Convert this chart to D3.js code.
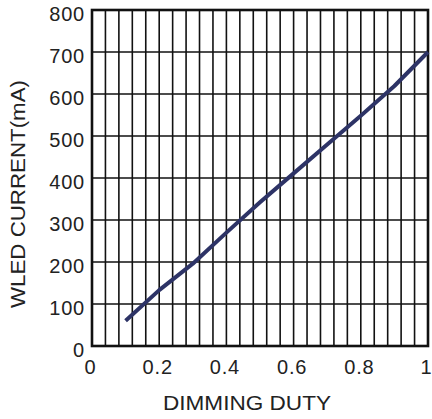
<!DOCTYPE html>
<html>
<head>
<meta charset="utf-8">
<script src="https://cdn.jsdelivr.net/npm/d3@7"></script>
<style>
  body { margin: 0; background: #fff; }
  text { font-family: "Liberation Sans", Arial, sans-serif; fill: #222; }
</style>
</head>
<body>
<svg></svg>
<script>
// dimming duty vs WLED current
let svgWidth = 432;
let svgHeight = 419;

let duty = [0.1, 0.2, 0.3, 0.4, 0.5, 0.6, 0.7, 0.8, 0.9, 1.0];
let current = [60, 133, 196, 270, 342, 411, 480, 548, 619, 700];

let xTicks = [0, 0.2, 0.4, 0.6, 0.8, 1];
let xTickLabels = ["0", "0.2", "0.4", "0.6", "0.8", "1"];
let yTicks = [0, 100, 200, 300, 400, 500, 600, 700, 800];
let xGrid = d3.range(0, 26).map(i => i * 0.04); // 25 divisions

let margin = { left: 92, right: 4, top: 10, bottom: 73 };
let w = svgWidth - margin.left - margin.right;
let h = svgHeight - margin.top - margin.bottom;

let svg = d3.select('svg')
  .attr("width", svgWidth)
  .attr("height", svgHeight);

let g = svg.append("g")
  .attr("transform", "translate(" + margin.left + "," + margin.top + ")");

let x = d3.scaleLinear().domain([0, 1]).range([0, w]);
let y = d3.scaleLinear().domain([0, 800]).range([h, 0]);

// grid
g.selectAll(".vg")
  .data(xGrid)
  .enter()
  .append("line")
  .attr("x1", d => x(d)).attr("x2", d => x(d))
  .attr("y1", 0).attr("y2", h)
  .attr("stroke", "#111").attr("stroke-width", 1.6);

g.selectAll(".hg")
  .data(yTicks)
  .enter()
  .append("line")
  .attr("x1", 0).attr("x2", w)
  .attr("y1", d => y(d)).attr("y2", d => y(d))
  .attr("stroke", "#111").attr("stroke-width", 1.6);

// frame
g.append("rect")
  .attr("width", w).attr("height", h)
  .attr("fill", "none").attr("stroke", "#111").attr("stroke-width", 2.6);

// axes (labels only)
let xAxis = g.append("g")
  .attr("transform", "translate(0," + h + ")")
  .call(d3.axisBottom(x).tickValues(xTicks).tickFormat((d, i) => xTickLabels[i]).tickSize(0).tickPadding(14));
xAxis.select(".domain").remove();
xAxis.selectAll("text")
  .attr("font-size", 20).attr("fill", "#222")
  .attr("font-family", "Liberation Sans, Arial, sans-serif")
  .attr("letter-spacing", "0.8px")
  .attr("dx", "-2");

let yAxis = g.append("g")
  .call(d3.axisLeft(y).tickValues(yTicks).tickSize(0).tickPadding(7));
yAxis.select(".domain").remove();
yAxis.selectAll("text")
  .attr("font-size", 20).attr("fill", "#222")
  .attr("font-family", "Liberation Sans, Arial, sans-serif")
  .attr("letter-spacing", "0.8px")
  .attr("dy", "0.52em");

// curve
let line = d3.line()
  .x((d, i) => x(duty[i]))
  .y(d => y(d));

g.append("path")
  .datum(current)
  .attr("d", line)
  .attr("fill", "none")
  .attr("stroke", "#2d3366")
  .attr("stroke-width", 4)
  .attr("stroke-linejoin", "round");

// titles
svg.append("text")
  .attr("x", 247).attr("y", 410)
  .attr("text-anchor", "middle")
  .attr("font-size", 20)
  .attr("textLength", 168).attr("lengthAdjust", "spacingAndGlyphs")
  .text("DIMMING DUTY");

svg.append("text")
  .attr("transform", "translate(25,194) rotate(-90)")
  .attr("text-anchor", "middle")
  .attr("font-size", 20)
  .attr("textLength", 228).attr("lengthAdjust", "spacingAndGlyphs")
  .text("WLED CURRENT(mA)");
</script>
</body>
</html>
